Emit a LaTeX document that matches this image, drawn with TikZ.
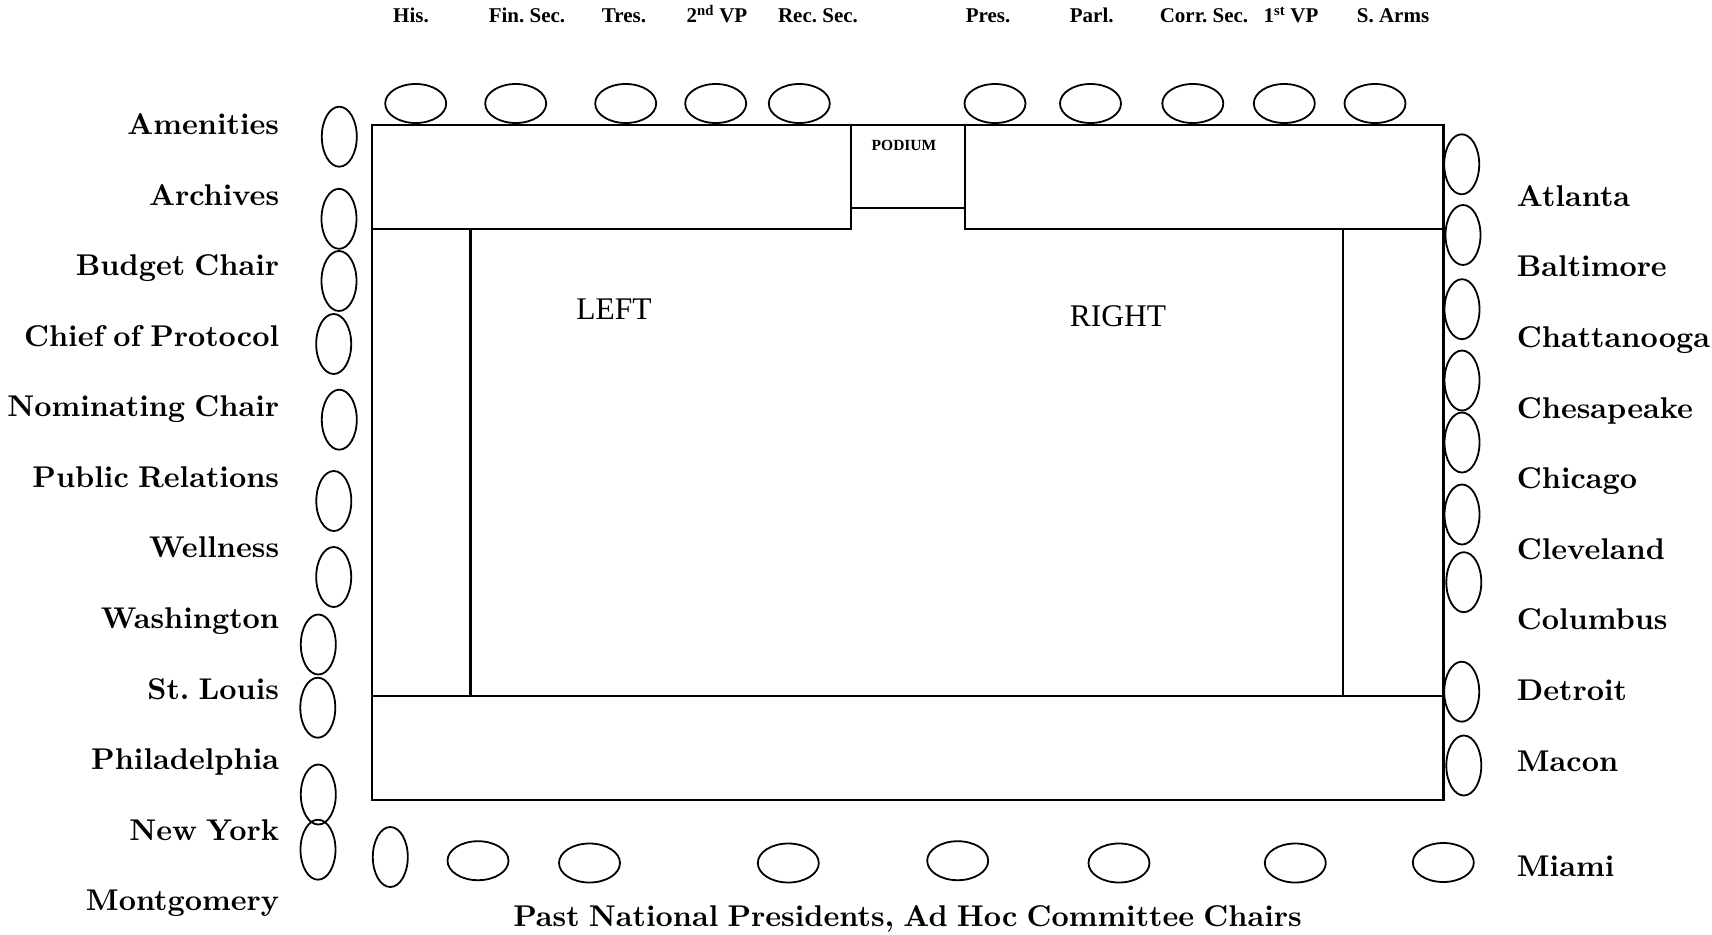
\documentclass[tikz,border=0pt]{standalone}
\usepackage{fontspec}
\newfontfamily\tnr{Liberation Serif}
\newfontfamily\lmbx{lmroman10-bold.otf}[WordSpace=0.8]
\usetikzlibrary{shapes.geometric}
\frenchspacing
\begin{document}
\frenchspacing
\begin{tikzpicture}[x=1pt,y=-1pt,
  tbl/.style={line width=2.4pt, line cap=rect},
  hseat/.style={draw, ellipse, line width=1.8pt, inner sep=0pt, minimum width=61pt, minimum height=39pt},
  vseat/.style={draw, ellipse, line width=1.8pt, inner sep=0pt, minimum width=35pt, minimum height=60pt},
  toplbl/.style={font=\tnr\bfseries\fontsize{21}{23}\selectfont, anchor=base, inner sep=0pt},
  sidelbl/.style={font=\lmbx\fontsize{30}{32}\selectfont\frenchspacing, inner sep=0pt},
  area/.style={font=\tnr\fontsize{31.5}{33}\selectfont, inner sep=0pt}]
\useasboundingbox (0,0) rectangle (1712,934);
% tables
\draw[tbl] (371.7,125) rectangle (1443.5,800);
\draw[tbl] (371.7,229) -- (850.7,229) -- (850.7,125);
\draw[tbl] (965,125) -- (965,229) -- (1443.5,229);
\draw[tbl] (850.7,207.7) -- (965,207.7);
\draw[tbl] (470.6,229) -- (470.6,696);
\draw[tbl] (1343,229) -- (1343,696);
\draw[tbl] (371.7,696) -- (1443.5,696);
\node[font=\tnr\bfseries\fontsize{15.5}{17}\selectfont, inner sep=0pt] (podium) at (904,145.8) {PODIUM};
\node[area] (left) at (614,309) {LEFT};
\node[area] (right) at (1118,316.6) {RIGHT};
% top seats
\foreach \x [count=\i] in {415.7,515.7,625.7,715.7,799.3,995,1090.5,1192.8,1284.3,1375}
  \node[hseat] (top\i) at (\x,103.5) {};
% top labels
\node[toplbl] (lHis) at (411,23) {His.};
\node[toplbl] (lFin) at (527,23) {Fin. Sec.};
\node[toplbl] (lTres) at (624,23) {Tres.};
\node[toplbl] (lVPtwo) at (717,23) {2\textsuperscript{nd} VP};
\node[toplbl] (lRec) at (818,23) {Rec. Sec.};
\node[toplbl] (lPres) at (988,23) {Pres.};
\node[toplbl] (lParl) at (1091.7,23) {Parl.};
\node[toplbl] (lCorr) at (1204,23) {Corr. Sec.};
\node[toplbl] (lVPone) at (1291,23) {1\textsuperscript{st} VP};
\node[toplbl] (lArms) at (1393,23) {S. Arms};
% left seats
\foreach \x/\y [count=\i] in {339.3/136.7, 339/218.8, 339/281, 333.7/344, 339.3/419.7, 333.8/501, 333.7/577, 318.3/644.5, 317.8/707.7, 318.3/794.5, 318/849.7}
  \node[vseat] (ls\i) at (\x,\y) {};
% right seats
\foreach \x/\y [count=\i] in {1461.7/164.3, 1463/235, 1462/309.2, 1462/380.5, 1462/442.5, 1462/514.5, 1463.8/582.2, 1461.7/691.7, 1463.8/765.5}
  \node[vseat] (rs\i) at (\x,\y) {};
% bottom seats
\node[vseat] (bs1) at (390.3,857) {};
\foreach \x/\y [count=\i from 2] in {478/860.7, 589.5/863, 788.3/863, 957.7/860.7, 1119/863, 1295.3/863, 1443.3/862.5}
  \node[hseat] (bs\i) at (\x,\y) {};
% left labels
\foreach \t [count=\i from 0] in {Amenities, Archives, Budget Chair, Chief of Protocol, Nominating Chair, Public Relations, Wellness, Washington, St. Louis, Philadelphia, New York, Montgomery}
  \node[sidelbl, anchor=base east] (ll\i) at (279.3,{134.6+70.55*\i}) {\t};
% right labels
\foreach \t [count=\i from 0] in {Atlanta, Baltimore, Chattanooga, Chesapeake, Chicago, Cleveland, Columbus, Detroit, Macon}
  \node[sidelbl, anchor=base west] (rl\i) at (1516.7,{206.3+70.6*\i}) {\t};
\node[sidelbl, anchor=base west] (rlMiami) at (1516.7,876.3) {Miami};
% caption
\node[sidelbl, anchor=base] (caption) at (907.5,926) {Past National Presidents, Ad Hoc Committee Chairs};
\end{tikzpicture}
\end{document}
